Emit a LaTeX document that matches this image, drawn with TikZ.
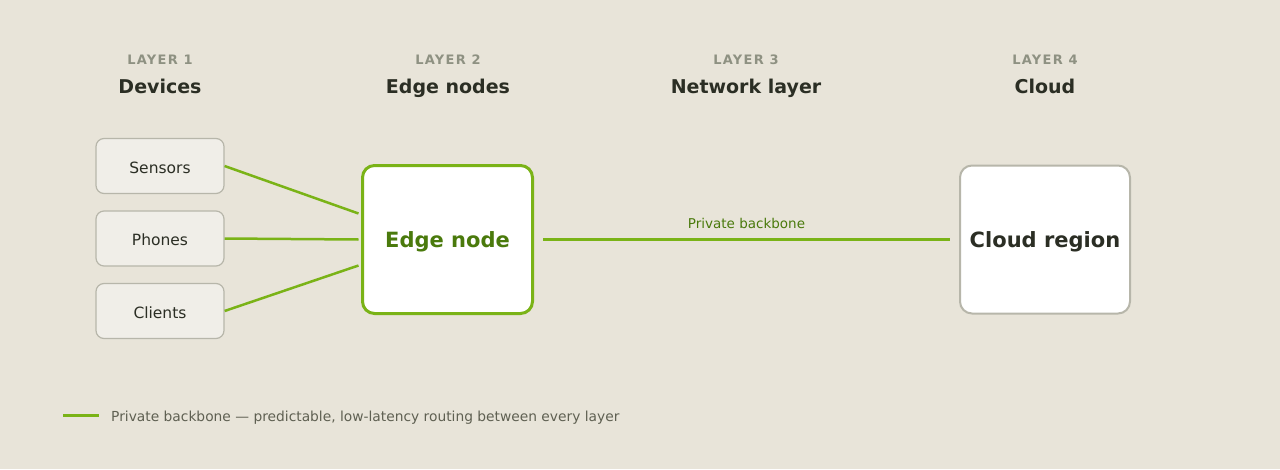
\documentclass[tikz,border=0pt]{standalone}
\usepackage{fontspec}
\setmainfont{DejaVu Sans}
\newfontfamily\layerfont[LetterSpace=10]{DejaVu Sans}
\usetikzlibrary{positioning}
\definecolor{pagebg}{HTML}{E8E4D9}
\definecolor{linkgreen}{HTML}{7AB317}
\definecolor{edgetext}{HTML}{4A7A0C}
\definecolor{inkdark}{HTML}{2B2E24}
\definecolor{layergray}{HTML}{8E9182}
\definecolor{boxgray}{HTML}{B7B6AA}
\definecolor{devfill}{HTML}{F0EEE8}
\definecolor{legendtext}{HTML}{5F6052}

\tikzset{
  layertag/.style={anchor=base, inner sep=0pt, text=layergray, font=\layerfont\bfseries\fontsize{13}{15}\selectfont},
  layertitle/.style={anchor=base, inner sep=0pt, text=inkdark, font=\bfseries\fontsize{19}{23}\selectfont},
  devicebox/.style={draw=boxgray, line width=1.2pt, fill=devfill, rounded corners=8pt,
    minimum width=128pt, minimum height=55pt, inner sep=0pt, text=inkdark,
    text height=16pt, text depth=2pt, font=\fontsize{15.5}{18}\selectfont},
  hubbox/.style={rounded corners=12pt, fill=white, minimum width=170pt, minimum height=148pt,
    inner sep=0pt, text height=17pt, text depth=2pt, font=\bfseries\fontsize{21}{25}\selectfont},
  link/.style={draw=linkgreen, line width=2.5pt},
}

\begin{document}
\begin{tikzpicture}[x=1pt, y=-1pt, every node/.style={align=center}]
  \fill[pagebg] (0,0) rectangle (1280,469);
  \useasboundingbox (0,0) rectangle (1280,469);

  % layer headings
  \node[layertag] (tag1) at (160,64) {LAYER 1};
  \node[layertag] (tag2) at (448,64) {LAYER 2};
  \node[layertag] (tag3) at (746,64) {LAYER 3};
  \node[layertag] (tag4) at (1045,64) {LAYER 4};
  \node[layertitle] (title1) at (160,93) {Devices};
  \node[layertitle] (title2) at (448,93) {Edge nodes};
  \node[layertitle] (title3) at (746,93) {Network layer};
  \node[layertitle] (title4) at (1045,93) {Cloud};

  % devices
  \node[devicebox] (sensors) at (160,166) {Sensors};
  \node[devicebox] (phones) at (160,238.5) {Phones};
  \node[devicebox] (clients) at (160,311) {Clients};

  % edge and cloud
  \node[hubbox, draw=linkgreen, line width=3pt, text=edgetext] (edge) at (447.5,239.5) {Edge node};
  \node[hubbox, draw=boxgray, line width=2pt, text=inkdark] (cloud) at (1045,239.5) {Cloud region};

  \draw[link] (sensors.east) -- ([xshift=-2.5pt, yshift=26pt]edge.west);
  \draw[link] (phones.east) -- ([xshift=-2.5pt]edge.west);
  \draw[link] (clients.east) -- ([xshift=-2.5pt, yshift=-26pt]edge.west);
  \draw[link, line width=3pt, shorten <=9pt, shorten >=9pt] (edge) -- node[anchor=base, yshift=11pt, inner sep=0pt, text=edgetext, font=\fontsize{13.5}{16}\selectfont] (bblabel) {Private backbone} (cloud);

  % legend
  \coordinate (keyleft) at (63,415);
  \coordinate (keyright) at (99,415);
  \draw[link, line width=3pt] (keyleft) -- (keyright);
  \node[anchor=base west, text=legendtext, font=\fontsize{13.8}{17}\selectfont, inner sep=0pt] (keytext) at ([xshift=12pt, yshift=-6.5pt]keyright) {Private backbone — predictable, low-latency routing between every layer};
\end{tikzpicture}
\end{document}
